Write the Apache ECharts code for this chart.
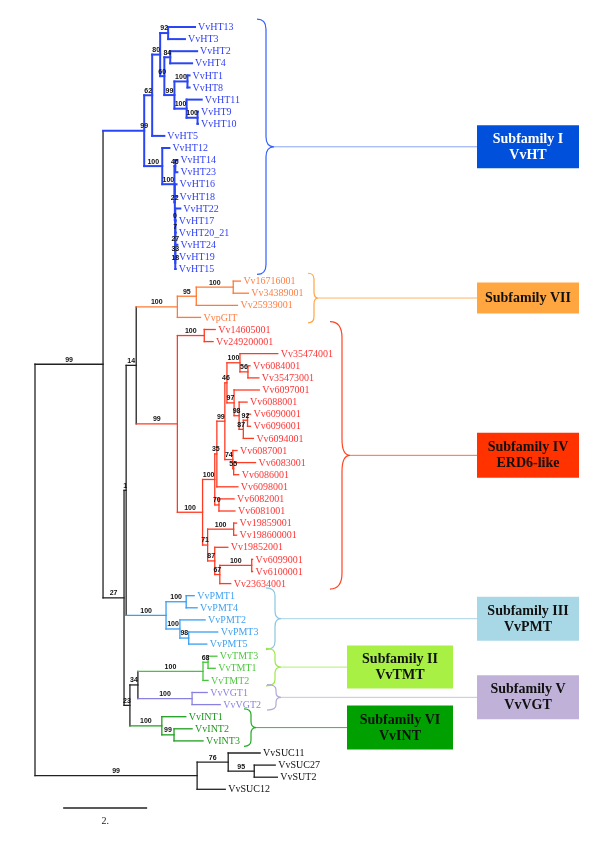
<!DOCTYPE html>
<html><head><meta charset="utf-8">
<script src="https://cdn.jsdelivr.net/npm/echarts@6/dist/echarts.min.js"></script>
<style>html,body{margin:0;padding:0;background:#fff}#c{width:600px;height:848px}</style>
</head><body><div id="c"></div>
<script>
// ================= DATA =================
// Clades in Newick form: leaf:branchLength, internal labels = bootstrap values
const cladeHT  = "(((((VvHT13:0.64,VvHT3:0.40)92:0.19,((VvHT2:0.64,VvHT4:0.52)84:0.14,((VvHT1:0.05,VvHT8:0.05)100:0.31,(VvHT11:0.36,(VvHT9:0.01,VvHT10:0.01)100:0.26)100:0.29)99:0.24)60:0.10)80:0.19,VvHT5:0.29)62:0.19,(VvHT12:0.17,((VvHT14:0.05,VvHT23:0.05)46:0.02,(VvHT16:0.04,VvHT18:0.04,(VvHT22:0.12,(VvHT17:0.01,(VvHT20_21:0.01,(VvHT24:0.05,(VvHT19:0.02,VvHT15:0.01)18:0)33:0)27:0)7:0)0:0.01)22:0.01)100:0.29)100:0.43)99";
const cladeVII = "(((Vv16716001:0.17,Vv34389001:0.36)100:0.88,Vv25939001:0.98)95:0.45,VvpGIT:0.55)100";
const cladeIV  = "((Vv14605001:0.26,Vv249200001:0.21)100:0.64,((((((Vv35474001:0.90,(Vv6084001:0.05,Vv35473001:0.26)56:0.19)100:0.31,(Vv6097001:0.60,(Vv6088001:0.19,((Vv6090001:0.07,Vv6096001:0.07)92:0.10,Vv6094001:0.24)87:0.10)98:0.12)97:0.17)46:0.05,(Vv6087001:0.10,(Vv6083001:0.52,Vv6086001:0.12)55:0.02)74:0.19)99:0.19,Vv6098001:0.50)35:0.05,(Vv6082001:0.36,Vv6081001:0.38)70:0.10)100:0.29,((Vv19859001:0.07,Vv198600001:0.07)100:0.62,(Vv19852001:0.31,((Vv6099001:0.02,Vv6100001:0.02)100:0.76,Vv23634001:0.26)67:0.12)87:0.17)71:0.12)100:0.60)99";
const cladeIII = "((VvPMT1:0.19,VvPMT4:0.26)100:0.48,(VvPMT2:0.60,(VvPMT3:0.69,VvPMT5:0.43)98:0.21)100:0.33)100";
const cladeII  = "((VvTMT3:0.21,VvTMT1:0.17)68:0.12,VvTMT2:0.12)100";
const cladeV   = "(VvVGT1:0.36,VvVGT2:0.67)100";
const cladeVI  = "(VvINT1:0.57,(VvINT2:0.43,VvINT3:0.69)99:0.29)100";
const cladeSUC = "((VvSUC11:0.76,(VvSUC27:0.50,VvSUT2:0.55)95:0.62)76:0.74,VvSUC12:0.67)99";
// Backbone joining the clades (placeholders = clade keys)
const backbone = "((HT:0.98,(((VII:0.98,IV:0.98)14:0.24,III:0.95)1:0.05,((II:1.55,V:1.29)34:0.19,VI:0.76)23:0.14)27:0.50)99:1.62,SUC:3.86)";

const cladeKeys    = ["HT", "VII", "IV", "III", "II", "V", "VI", "SUC"];
const cladeStrings = [cladeHT, cladeVII, cladeIV, cladeIII, cladeII, cladeV, cladeVI, cladeSUC];
const subfamilyKeys   = ["HT", "VII", "IV", "III", "II", "V", "VI"];
const subfamilyLabels = ["Subfamily I\nVvHT", "Subfamily VII", "Subfamily IV\nERD6-like",
                         "Subfamily III\nVvPMT", "Subfamily II\nVvTMT", "Subfamily V\nVvVGT", "Subfamily VI\nVvINT"];
const scaleBarLength = 2;
const scaleBarLabel = "2.";

// ================= STYLE / LAYOUT =================
const lineColor = {base:'#222222', HT:'#2a46f4', VII:'#ff7a34', IV:'#ff3a22', III:'#3a9ff0', II:'#45c63a', V:'#8a80e0', VI:'#1f9f1f', SUC:'#222222'};
const textColor = {base:'#111111', HT:'#2f3ef6', VII:'#ff7f45', IV:'#ff3434', III:'#40a2f2', II:'#4ec840', V:'#8c82e4', VI:'#1e961e', SUC:'#111111'};
const braceColor = {HT:'#3060ff', VII:'#ffa544', IV:'#ff4422', III:'#8cc6e0', II:'#9ee84a', V:'#b4a8d8', VI:'#22aa22'};
const connColor  = {HT:'#8aa4f4', VII:'#ffb466', IV:'#ff6a4a', III:'#a9d4e6', II:'#b2ee72', V:'#c9c1e2', VI:'#3cb83c'};
const boxColor   = {HT:'#0050dc', VII:'#ffa640', IV:'#ff3200', III:'#a8d8e6', II:'#a8f044', V:'#bfb1d8', VI:'#00a000'};
const bracketLayout = {
  HT:  {tip:257, mid:266, point:274, boxX:477, boxW:102, boxH:43, r:10},
  VII: {tip:308, mid:314, point:318, boxX:477, boxW:102, boxH:31, r:6},
  IV:  {tip:330, mid:342, point:350, boxX:477, boxW:102, boxH:45, r:16},
  III: {tip:266, mid:275, point:281, boxX:477, boxW:102, boxH:44, r:8},
  II:  {tip:266, mid:275, point:281, boxX:347, boxW:106, boxH:43, r:6},
  V:   {tip:267, mid:276, point:281, boxX:477, boxW:102, boxH:44, r:5},
  VI:  {tip:244, mid:251, point:256, boxX:347, boxW:106, boxH:44, r:6}
};
const scaleBarStart = 0.67, scaleBarRow = 64.55;

// ================= TREE BUILD =================
function parseNewick(s) {
  let i = 0;
  function node() {
    const n = {children: [], name: '', len: 0};
    if (s[i] === '(') {
      i++;
      n.children.push(node());
      while (s[i] === ',') { i++; n.children.push(node()); }
      i++;
    }
    let name = '';
    while (i < s.length && !',():;'.includes(s[i])) name += s[i++];
    n.name = name;
    if (s[i] === ':') {
      i++; let num = '';
      while (i < s.length && !',();'.includes(s[i])) num += s[i++];
      n.len = parseFloat(num);
    }
    return n;
  }
  return node();
}
function tag(n, key) { n.clade = key; n.children.forEach(c => tag(c, key)); }
function graft(n) {
  n.children = n.children.map(c => {
    const k = cladeKeys.indexOf(c.name);
    if (!c.children.length && k >= 0) {
      const sub = parseNewick(cladeStrings[k]);
      sub.len = c.len; tag(sub, cladeKeys[k]);
      return sub;
    }
    graft(c); return c;
  });
}
const root = parseNewick(backbone);
graft(root);

const leaves = [];
function layout(n, px) {
  n.x = px + n.len;
  if (!n.children.length) { n.y = leaves.length; leaves.push(n); }
  else {
    n.children.forEach(c => layout(c, n.x));
    n.y = (n.children[0].y + n.children[n.children.length - 1].y) / 2;
  }
}
root.len = 0; layout(root, 0);

const segData = [], segKeys = [], bootData = [], bootText = [];
function collect(n, parent) {
  const key = n.clade || 'base';
  if (parent) { segData.push([parent.x, n.y, n.x, n.y]); segKeys.push(key); }
  if (n.children.length) {
    segData.push([n.x, n.children[0].y, n.x, n.children[n.children.length - 1].y]); segKeys.push(key);
    if (parent && n.name !== '') { bootData.push([(parent.x + n.x) / 2, n.y]); bootText.push(n.name); }
    n.children.forEach(c => collect(c, n));
  }
}
collect(root, null);

const leafData = leaves.map(l => [l.x, l.y]);
const leafNames = leaves.map(l => l.name);
const leafKeys = leaves.map(l => l.clade || 'base');

const bracketData = subfamilyKeys.map(k => {
  const idx = leaves.map((l, i) => l.clade === k ? i : -1).filter(i => i >= 0);
  return [idx[0], idx[idx.length - 1], 0];
});

// ================= CHART =================
const chart = echarts.init(document.getElementById('c'), null, {renderer: 'canvas'});
chart.setOption({
  animation: false,
  backgroundColor: '#ffffff',
  grid: {left: 35, top: 2.8, width: 546, height: 822.8},
  xAxis: {type: 'value', min: 0, max: 13, show: false},
  yAxis: {type: 'value', min: -2, max: 66, inverse: true, show: false},
  series: [
    { type: 'custom', silent: true, clip: false, data: segData,
      encode: {x: [0, 2], y: [1, 3]},
      renderItem: (p, api) => {
        const a = api.coord([api.value(0), api.value(1)]);
        const b = api.coord([api.value(2), api.value(3)]);
        const k = segKeys[p.dataIndex];
        return {type: 'line', shape: {x1: a[0], y1: a[1], x2: b[0], y2: b[1]},
          style: {stroke: lineColor[k], lineWidth: k === 'HT' ? 2 : 1.3, lineCap: 'square'}};
      } },
    { type: 'custom', silent: true, clip: false, data: bootData, z: 3,
      encode: {x: 0, y: 1},
      renderItem: (p, api) => {
        const a = api.coord([api.value(0), api.value(1)]);
        return {type: 'text', style: {text: bootText[p.dataIndex], x: a[0], y: a[1] - 1,
          align: 'center', verticalAlign: 'bottom', font: 'bold 7px "Liberation Sans", Arial, sans-serif', fill: '#111'}};
      } },
    { type: 'custom', silent: true, clip: false, data: leafData, z: 3,
      encode: {x: 0, y: 1},
      renderItem: (p, api) => {
        const a = api.coord([api.value(0), api.value(1)]);
        return {type: 'text', style: {text: leafNames[p.dataIndex], x: a[0] + 3, y: a[1] + 0.5,
          align: 'left', verticalAlign: 'middle', font: '10px "Liberation Serif", "Times New Roman", serif',
          fill: textColor[leafKeys[p.dataIndex]]}};
      } },
    { type: 'custom', silent: true, clip: false, data: bracketData, z: 2,
      encode: {x: 2, y: [0, 1]},
      renderItem: (p, api) => {
        const k = subfamilyKeys[p.dataIndex];
        const L = bracketLayout[k];
        const yt = api.coord([0, api.value(0) - 0.65])[1];
        const yb = api.coord([0, api.value(1) + 0.45])[1];
        const ym = (yt + yb) / 2;
        const r = Math.min(L.r, (yb - yt) / 4);
        const d = `M${L.tip},${yt} Q${L.mid},${yt} ${L.mid},${yt + r} L${L.mid},${ym - r} Q${L.mid},${ym} ${L.point},${ym} ` +
                  `Q${L.mid},${ym} ${L.mid},${ym + r} L${L.mid},${yb - r} Q${L.mid},${yb} ${L.tip},${yb}`;
        return {type: 'group', children: [
          {type: 'path', shape: {pathData: d}, style: {stroke: braceColor[k], fill: null, lineWidth: 1.2}},
          {type: 'line', shape: {x1: L.point, y1: ym, x2: L.boxX, y2: ym}, style: {stroke: connColor[k], lineWidth: 1}},
          {type: 'rect', shape: {x: L.boxX, y: ym - L.boxH / 2, width: L.boxW, height: L.boxH}, style: {fill: boxColor[k]}},
          {type: 'text', style: {text: subfamilyLabels[p.dataIndex], x: L.boxX + L.boxW / 2, y: ym + 0.5,
            align: 'center', verticalAlign: 'middle', lineHeight: 16,
            font: 'bold 14px "Liberation Serif", "Times New Roman", serif', fill: k === 'HT' ? '#ffffff' : '#111111'}}
        ]};
      } },
    { type: 'custom', silent: true, clip: false, data: [[scaleBarStart, scaleBarRow]], z: 2,
      encode: {x: 0, y: 1},
      renderItem: (p, api) => {
        const a = api.coord([api.value(0), api.value(1)]);
        const b = api.coord([api.value(0) + scaleBarLength, api.value(1)]);
        return {type: 'group', children: [
          {type: 'line', shape: {x1: a[0], y1: a[1], x2: b[0], y2: b[1]}, style: {stroke: '#222', lineWidth: 1.5}},
          {type: 'text', style: {text: scaleBarLabel, x: (a[0] + b[0]) / 2, y: a[1] + 8, align: 'center', verticalAlign: 'top',
            font: '10px "Liberation Serif", serif', fill: '#222'}}
        ]};
      } }
  ]
});
</script>
</body></html>
